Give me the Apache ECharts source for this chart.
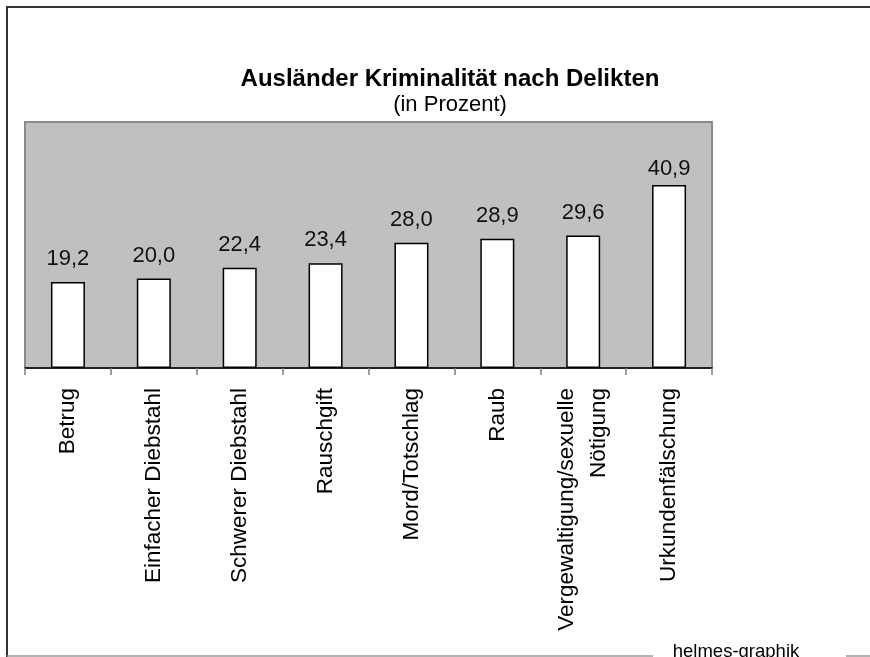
<!DOCTYPE html>
<html lang="de">
<head>
	<meta charset="UTF-8">
	<title>Ausländer Kriminalität nach Delikten</title>
	<style type="text/css">
		html, body { margin: 0; padding: 0; background: #fff; }
		#container { width: 870px; height: 657px; }
	</style>
	<script type="text/javascript" src="https://cdn.jsdelivr.net/npm/echarts@6/dist/echarts.min.js"></script>
</head>
<body>
	<div id="container"></div>
	<script type="text/javascript">
	// Daten
	var delikte = ['Betrug', 'Einfacher Diebstahl', 'Schwerer Diebstahl', 'Rauschgift',
		'Mord/Totschlag', 'Raub', 'Vergewaltigung/sexuelle\nNötigung', 'Urkundenfälschung'];
	var anteile = [19.2, 20.0, 22.4, 23.4, 28.0, 28.9, 29.6, 40.9];

	var titel = 'Ausländer Kriminalität nach Delikten';
	var untertitel = '(in Prozent)';
	var quelle = 'helmes-graphik';

	var font = "'Liberation Sans', Arial, sans-serif";

	var dom = document.getElementById('container');
	var myChart = echarts.init(dom);

	// letzter Balken: Beschriftung etwas naeher am Balken
	var balken = anteile.map(function (v, i) {
		if (i === anteile.length - 1) {
			return { value: v, label: { distance: 5 } };
		}
		return v;
	});

	var option = {
		animation: false,
		backgroundColor: '#ffffff',
		textStyle: { fontFamily: font },
		grid: {
			left: 25,
			top: 122,
			right: 158,
			bottom: 289,
			show: true,
			backgroundColor: '#c0c0c0',
			borderColor: '#8a8a8a',
			borderWidth: 2
		},
		xAxis: {
			type: 'category',
			data: delikte,
			boundaryGap: true,
			axisLine: { lineStyle: { color: '#000', width: 1.5 } },
			axisTick: { show: true, length: 7, lineStyle: { color: '#808080', width: 1.5 } },
			axisLabel: {
				rotate: 90,
				interval: 0,
				margin: 20,
				fontSize: 22.5,
				lineHeight: 32,
				color: '#000',
				fontFamily: font
			}
		},
		yAxis: {
			type: 'value',
			min: 0,
			max: 55,
			show: false,
			splitLine: { show: false }
		},
		series: [{
			type: 'bar',
			data: balken,
			barWidth: 34,
			itemStyle: { color: '#ffffff', borderColor: '#000', borderWidth: 1.5 },
			label: {
				show: true,
				position: 'top',
				distance: 12,
				fontSize: 22,
				color: '#111',
				fontFamily: font,
				formatter: function (p) {
					return p.value.toFixed(1).replace('.', ',');
				}
			}
		}],
		graphic: [
			{
				type: 'polyline',
				shape: { points: [[7, 657], [7, 7], [870, 7]] },
				style: { stroke: '#333', lineWidth: 2, fill: null }
			},
			{
				type: 'line',
				shape: { x1: 7, y1: 656, x2: 653, y2: 656 },
				style: { stroke: '#9a9a9a', lineWidth: 1.5 }
			},
			{
				type: 'line',
				shape: { x1: 846, y1: 656, x2: 870, y2: 656 },
				style: { stroke: '#9a9a9a', lineWidth: 1.5 }
			},
			{
				type: 'text',
				x: 450,
				y: 79,
				style: {
					text: titel,
					font: 'bold 24px ' + font,
					fill: '#000',
					align: 'center',
					verticalAlign: 'middle'
				}
			},
			{
				type: 'text',
				x: 450,
				y: 105,
				style: {
					text: untertitel,
					font: '22px ' + font,
					fill: '#000',
					align: 'center',
					verticalAlign: 'middle'
				}
			},
			{
				type: 'text',
				x: 736,
				y: 642,
				style: {
					text: quelle,
					font: '18.5px ' + font,
					fill: '#000',
					align: 'center',
					verticalAlign: 'top'
				}
			}
		]
	};

	myChart.setOption(option);
	</script>
</body>
</html>
